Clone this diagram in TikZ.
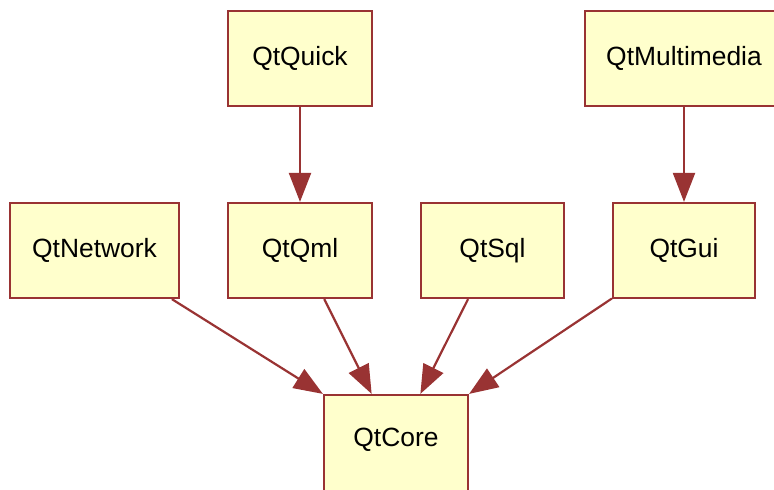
\documentclass[tikz,border=0pt]{standalone}
\usepackage{fontspec}
\setmainfont{Liberation Sans}
\usetikzlibrary{arrows.meta,calc}
\definecolor{boxfill}{HTML}{FFFFCC}
\definecolor{boxline}{HTML}{993333}
\tikzset{
  modbox/.style={draw=boxline, fill=boxfill, line width=2.2bp, inner sep=0pt,
    minimum height=95bp, font=\fontsize{26.5}{31}\selectfont, text=black},
  dep/.style={draw=boxline, line width=2.2bp, -{Triangle[length=29bp,width=22bp]}, color=boxline}
}
\begin{document}
\begin{tikzpicture}[x=1bp,y=-1bp]
\path[use as bounding box] (0,0) rectangle (774,490);
\clip (0,0) rectangle (774,490);
\node[modbox, minimum width=144bp] (quick) at (300,58.5) {QtQuick};
\node[modbox, minimum width=198bp] (mm) at (684,58.5) {QtMultimedia};
\node[modbox, minimum width=169bp] (net) at (94.5,250.5) {QtNetwork};
\node[modbox, minimum width=144bp] (qml) at (300,250.5) {QtQml};
\node[modbox, minimum width=143bp] (sql) at (492.5,250.5) {QtSql};
\node[modbox, minimum width=142bp] (gui) at (684,250.5) {QtGui};
\node[modbox, minimum width=144bp, minimum height=110bp] (core) at (396,450) {};
\node[font=\fontsize{26.5}{31}\selectfont] (coretext) at (396,440) {QtCore};
\coordinate (c1) at ($(core.north west)!1/3!(core.north east)$);
\coordinate (c2) at ($(core.north west)!2/3!(core.north east)$);
\draw[dep] (quick) -- (qml);
\draw[dep] (mm) -- (gui);
\draw[dep] (net) -- (core.north west);
\draw[dep] (qml) -- (c1);
\draw[dep] (sql) -- (c2);
\draw[dep] (gui) -- (core.north east);
\end{tikzpicture}
\end{document}
